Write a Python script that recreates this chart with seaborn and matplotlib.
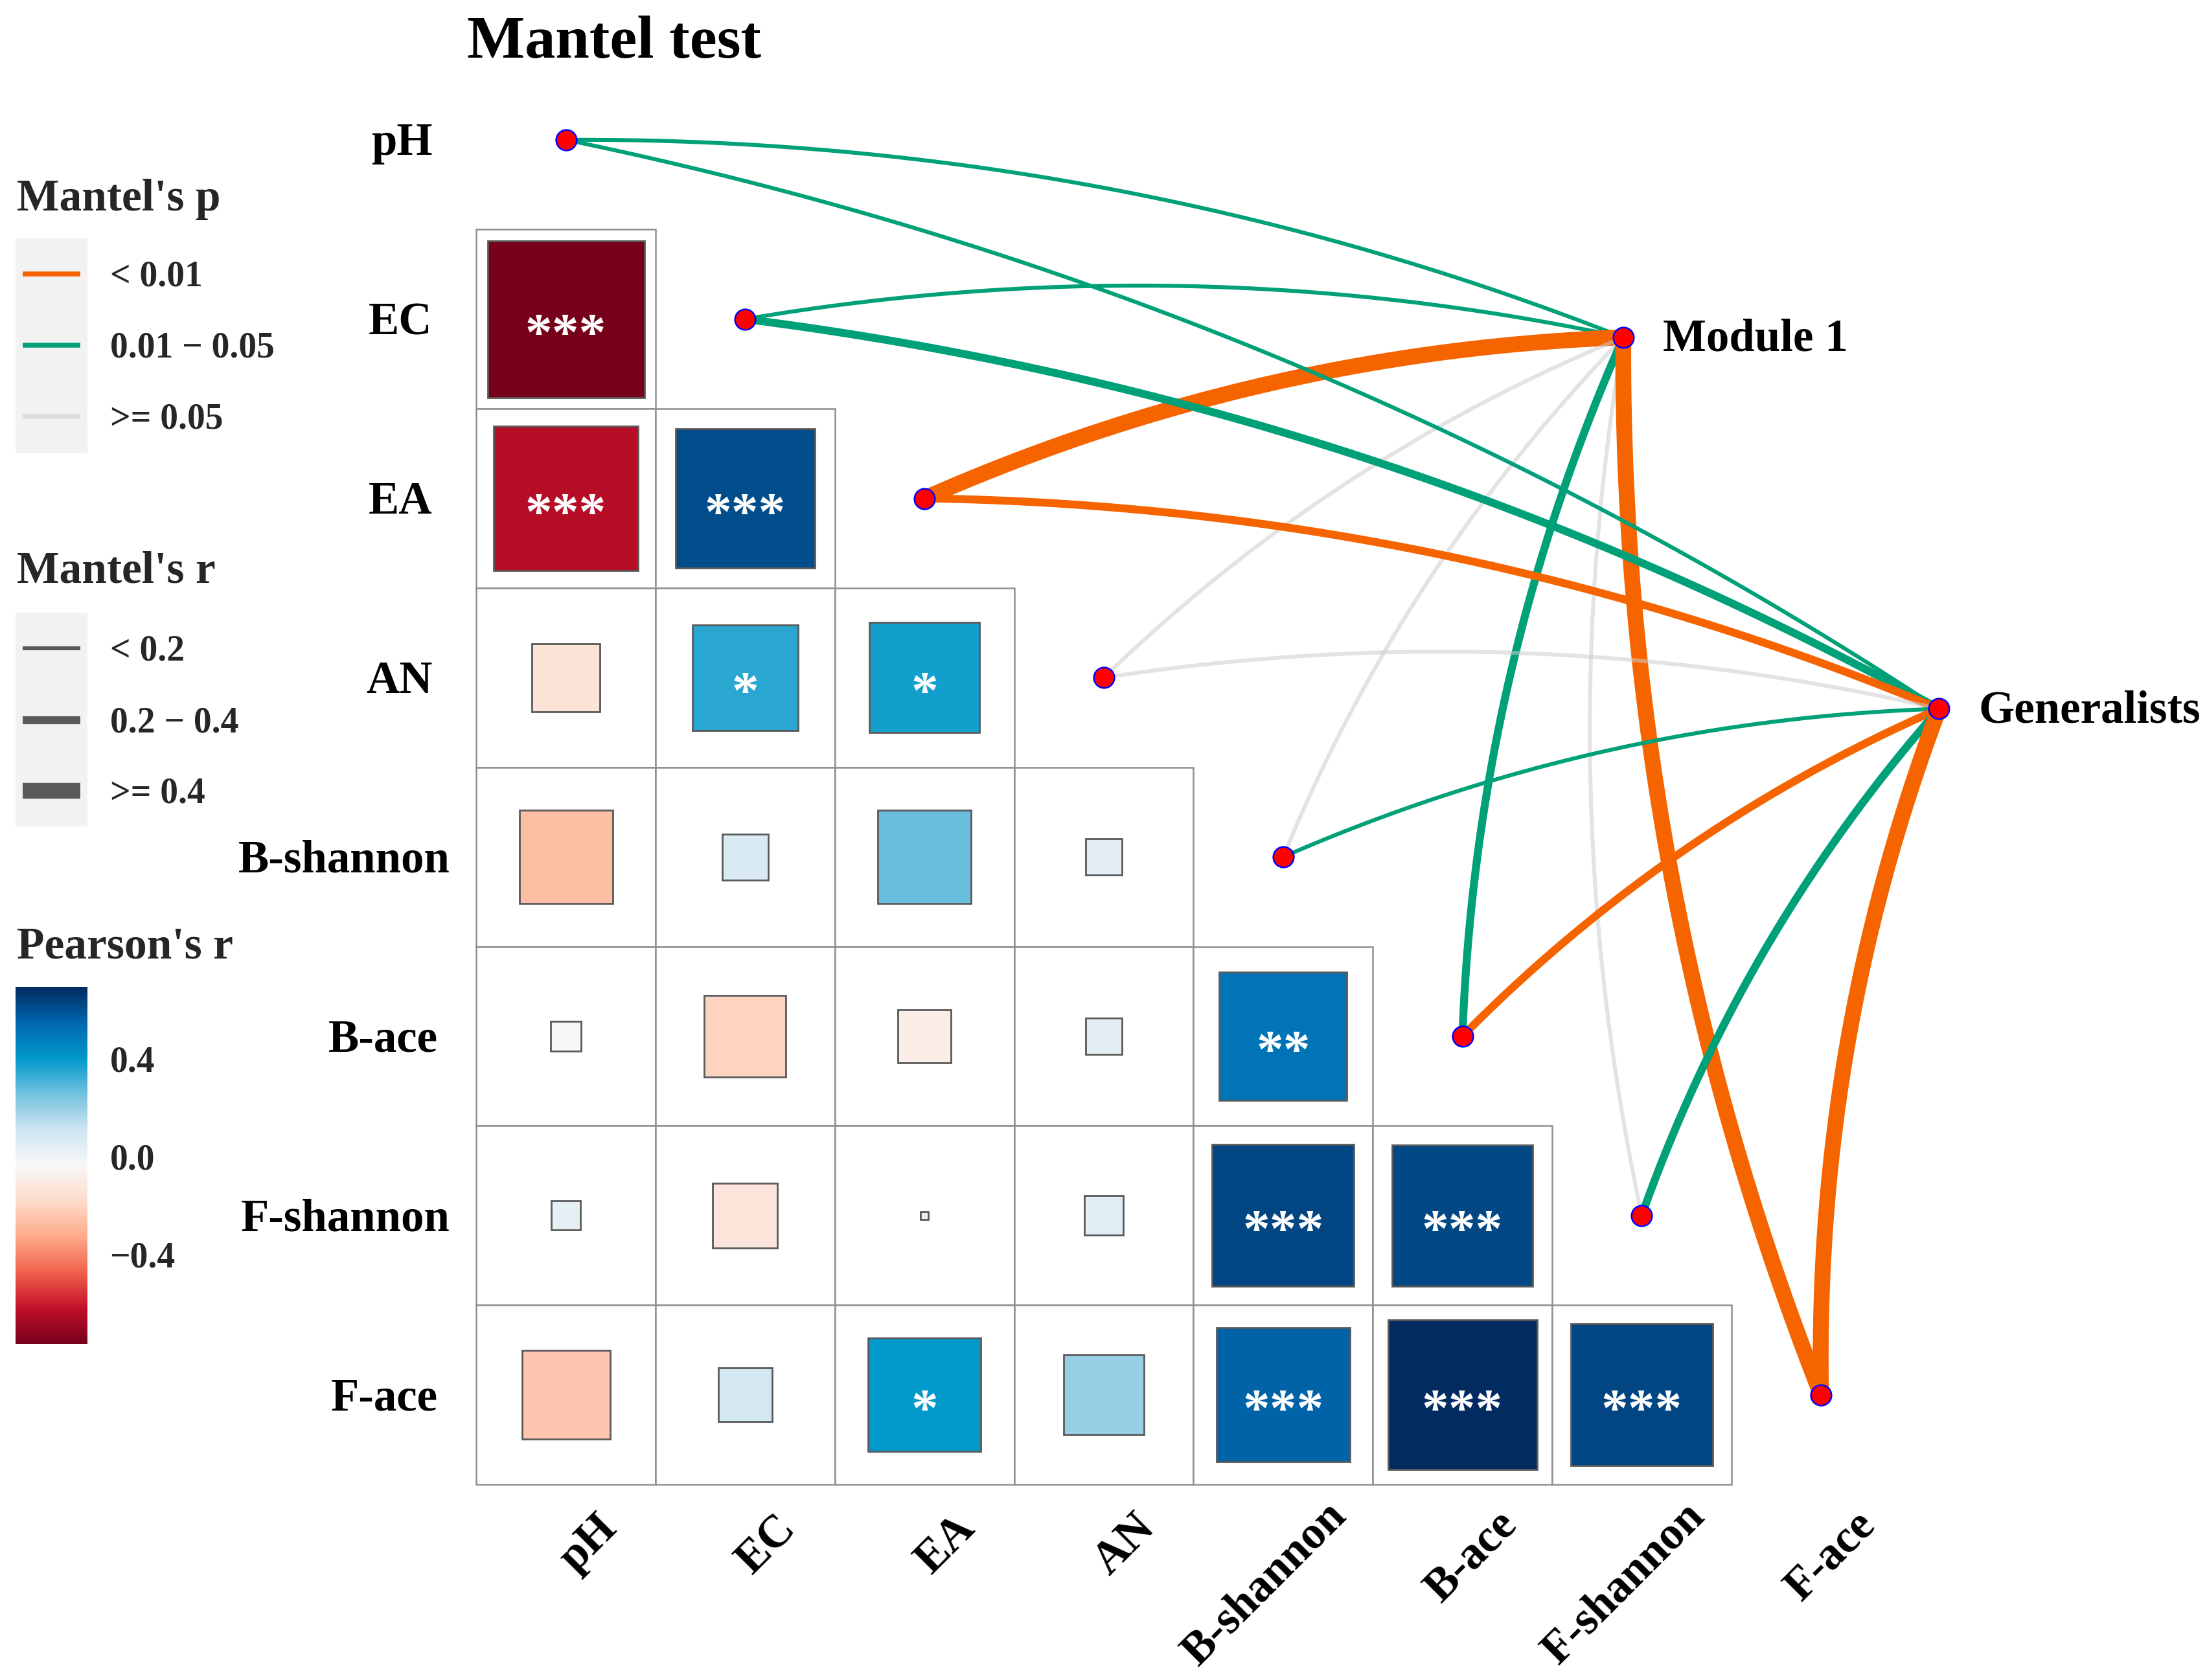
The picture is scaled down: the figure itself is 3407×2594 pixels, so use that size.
import numpy as np
import pandas as pd
import matplotlib
matplotlib.use("Agg")
import matplotlib as mpl
import matplotlib.pyplot as plt
from matplotlib.patches import Rectangle
from matplotlib.colors import LinearSegmentedColormap, Normalize
from matplotlib.textpath import TextPath
from matplotlib.font_manager import FontProperties
import seaborn as sns

# ---------------- data ----------------
variables = ['pH', 'EC', 'EA', 'AN', 'B-shannon', 'B-ace', 'F-shannon', 'F-ace']

# lower-triangle Pearson's r (row variable vs. earlier column variables)
r_pH = []
r_EC = [-0.765]
r_EA = [-0.645, 0.607]
r_AN = [-0.143, 0.349, 0.378]
r_Bshannon = [-0.270, 0.066, 0.270, 0.042]
r_Bace = [-0.028, -0.207, -0.089, 0.042, 0.508]
r_Fshannon = [0.026, -0.131, 0.002, 0.048, 0.626, 0.618]
r_Face = [-0.242, 0.089, 0.397, 0.198, 0.555, 0.691, 0.626]
corr_rows = [r_pH, r_EC, r_EA, r_AN, r_Bshannon, r_Bace, r_Fshannon, r_Face]

sig_pH = []
sig_EC = ['***']
sig_EA = ['***', '***']
sig_AN = ['', '*', '*']
sig_Bshannon = ['', '', '', '']
sig_Bace = ['', '', '', '', '**']
sig_Fshannon = ['', '', '', '', '***', '***']
sig_Face = ['', '', '*', '', '***', '***', '***']
sig_rows = [sig_pH, sig_EC, sig_EA, sig_AN, sig_Bshannon, sig_Bace, sig_Fshannon, sig_Face]

specs = ['Module 1', 'Generalists']
p_module1 = ['0.01 - 0.05', '0.01 - 0.05', '< 0.01', '>= 0.05', '>= 0.05', '0.01 - 0.05', '>= 0.05', '< 0.01']
r_module1 = ['< 0.2', '< 0.2', '>= 0.4', '< 0.2', '< 0.2', '0.2 - 0.4', '< 0.2', '>= 0.4']
p_generalists = ['0.01 - 0.05', '0.01 - 0.05', '< 0.01', '>= 0.05', '0.01 - 0.05', '< 0.01', '0.01 - 0.05', '< 0.01']
r_generalists = ['< 0.2', '0.2 - 0.4', '0.2 - 0.4', '< 0.2', '< 0.2', '0.2 - 0.4', '0.2 - 0.4', '>= 0.4']
spec_p = [p_module1, p_generalists]
spec_r = [r_module1, r_generalists]

p_levels = ['< 0.01', '0.01 - 0.05', '>= 0.05']
p_labels = ['< 0.01', '0.01 \u2212 0.05', '>= 0.05']
r_levels = ['< 0.2', '0.2 - 0.4', '>= 0.4']
r_labels = ['< 0.2', '0.2 \u2212 0.4', '>= 0.4']
cbar_ticks = [-0.4, 0.0, 0.4]
cbar_ticklabels = ['\u22120.4', '0.0', '0.4']

# ---------------- styles ----------------
p_colors = {'< 0.01': '#F66400', '0.01 - 0.05': '#00A078', '>= 0.05': (0.80, 0.80, 0.80, 0.55)}
r_widths = {'< 0.2': 2.2, '0.2 - 0.4': 4.4, '>= 0.4': 8.8}
fill_colors = ['#77001A', '#C4102A', '#F0614C', '#FDAA89', '#FEDCCB', '#F7F7F7',
               '#CFE6F1', '#74C1DF', '#0099C9', '#0068AF', '#022B60']

sns.set_theme(style='white')
plt.rcParams['font.family'] = ['Liberation Serif', 'DejaVu Serif']
plt.rcParams['font.weight'] = 'bold'
plt.rcParams['axes.unicode_minus'] = True

W, H, DPI = 3407, 2594, 200
CELL, X0, Y0 = 276.8, 873.6, 215.9   # pixel size of one cell, pixel centre of (0,0)
LAB_SIZE = 25.5
HJ = 0.88                             # horizontal justification of axis labels
label_fp = FontProperties(family='Liberation Serif', weight='bold', size=LAB_SIZE)


def px(x, y):
    return (x - X0) / CELL, (y - Y0) / CELL


def text_width(s):
    ext = TextPath((0, 0), s, prop=label_fp).get_extents()
    return ext.width * DPI / 72 / CELL


fig = plt.figure(figsize=(W / DPI, H / DPI), dpi=DPI)
ax = fig.add_axes([0, 0, 1, 1])

all_r = np.concatenate([np.array(r) for r in corr_rows if len(r)])
norm = Normalize(vmin=all_r.min(), vmax=all_r.max())
cmap = LinearSegmentedColormap.from_list('pearson', fill_colors)

# ---------------- correlation squares ----------------
for i, (rr, ss) in enumerate(zip(corr_rows, sig_rows)):
    for j, (r, s) in enumerate(zip(rr, ss)):
        ax.add_patch(Rectangle((j - 0.5, i - 0.5), 1, 1, facecolor='white',
                               edgecolor='#8F8F8F', lw=0.9, zorder=1))
        side = np.sqrt(abs(r))
        ax.add_patch(Rectangle((j - side / 2, i - side / 2), side, side,
                               facecolor=cmap(norm(r)), edgecolor='#5A5A5A',
                               lw=1.0, zorder=2))
        if s:
            ax.text(j, i + 0.17, s, ha='center', va='baseline', color='white',
                    fontsize=30, fontweight='bold', zorder=3)

# ---------------- mantel links ----------------
node_x = [5.897, 7.658]
node_y = [1.102, 3.174]
sag = 0.048
t = np.linspace(0, 1, 120)[:, None]
for k, spec in enumerate(specs):
    S = np.array([node_x[k], node_y[k]])
    for i, var in enumerate(variables):
        E = np.array([float(i), float(i)])
        d = E - S
        L = np.hypot(*d)
        n = np.array([-d[1], d[0]]) / L
        P = (S + E) / 2 + n * 2 * sag * L
        pts = (1 - t) ** 2 * S + 2 * t * (1 - t) * P + t ** 2 * E
        ax.plot(pts[:, 0], pts[:, 1], color=p_colors[spec_p[k][i]],
                lw=r_widths[spec_r[k][i]], solid_capstyle='butt', zorder=4)

# ---------------- points ----------------
env_df = pd.DataFrame({'x': np.arange(len(variables), dtype=float),
                       'y': np.arange(len(variables), dtype=float)})
node_df = pd.DataFrame({'x': node_x, 'y': node_y})
sns.scatterplot(data=pd.concat([env_df, node_df]), x='x', y='y', s=130,
                color='#FF0000', edgecolor='#0000FF', linewidth=0.9,
                ax=ax, legend=False, zorder=6)

# ---------------- axis labels ----------------
c45 = np.cos(np.pi / 4)
for i, var in enumerate(variables):
    w = text_width(var)
    # row labels (left)
    ax.text(-0.786 + (1 - HJ) * w, i + 0.085, var, ha='right', va='baseline',
            fontsize=LAB_SIZE, fontweight='bold', color='black')
    # column labels (bottom, 45 degrees)
    sh = (1 - HJ) * w * c45
    ax.text(i + 0.134 + sh, 7.656 - sh, var, ha='right', va='top', rotation=45,
            rotation_mode='anchor', fontsize=LAB_SIZE, fontweight='bold', color='black')

for k, spec in enumerate(specs):
    ax.text(node_x[k] + 0.22, node_y[k] + 0.075, spec, ha='left', va='baseline',
            fontsize=LAB_SIZE, fontweight='bold', color='black')

tx, ty = px(721, 89.3)
ax.text(tx, ty, 'Mantel test', ha='left', va='baseline', fontsize=34,
        fontweight='bold', color='black')

# ---------------- legends ----------------
def legend_block(title, title_base, box_top, box_bot, key_ys, labels, colors, widths):
    x, y = px(26, title_base)
    ax.text(x, y, title, ha='left', va='baseline', fontsize=25, fontweight='bold')
    bx0, by0 = px(24.5, box_top)
    bx1, by1 = px(135, box_bot)
    ax.add_patch(Rectangle((bx0, by0), bx1 - bx0, by1 - by0, facecolor='#F2F2F2',
                           edgecolor='none', zorder=1))
    for ky, lab, c, lw in zip(key_ys, labels, colors, widths):
        xa, ya = px(35, ky)
        xb, _ = px(124, ky)
        ax.plot([xa, xb], [ya, ya], color=c, lw=lw, solid_capstyle='butt', zorder=2)
        lx, ly = px(170, ky + 18.8)
        ax.text(lx, ly, lab, ha='left', va='baseline', fontsize=20, fontweight='bold')


legend_block("Mantel's p", 324.5, 368, 699, [423, 533, 643], p_labels,
             [p_colors[l] for l in p_levels], [2.7, 2.7, 2.7])
legend_block("Mantel's r", 899, 946, 1276, [1001, 1112, 1221], r_labels,
             ['#595959'] * 3, [r_widths[l] for l in r_levels])

x, y = px(26, 1479.5)
ax.text(x, y, "Pearson's r", ha='left', va='baseline', fontsize=25, fontweight='bold')

ax.set_xlim(px(0, 0)[0], px(W, 0)[0])
ax.set_ylim(px(0, H)[1], px(0, 0)[1])
ax.set_axis_off()

cax = fig.add_axes([24 / W, 1 - 2075 / H, 111 / W, 551 / H])
cb = mpl.colorbar.ColorbarBase(cax, cmap=cmap, norm=norm, orientation='vertical')
cb.outline.set_visible(False)
cb.set_ticks(cbar_ticks)
cb.set_ticklabels(cbar_ticklabels)
cax.tick_params(which='major', direction='in', length=8.2, width=0.8, color='white',
                left=True, right=True, labelleft=False, labelright=True,
                labelsize=20, pad=12.4)
for lab in cax.get_yticklabels():
    lab.set_fontweight('bold')

fig.savefig('out.png', dpi=DPI, facecolor='white')
